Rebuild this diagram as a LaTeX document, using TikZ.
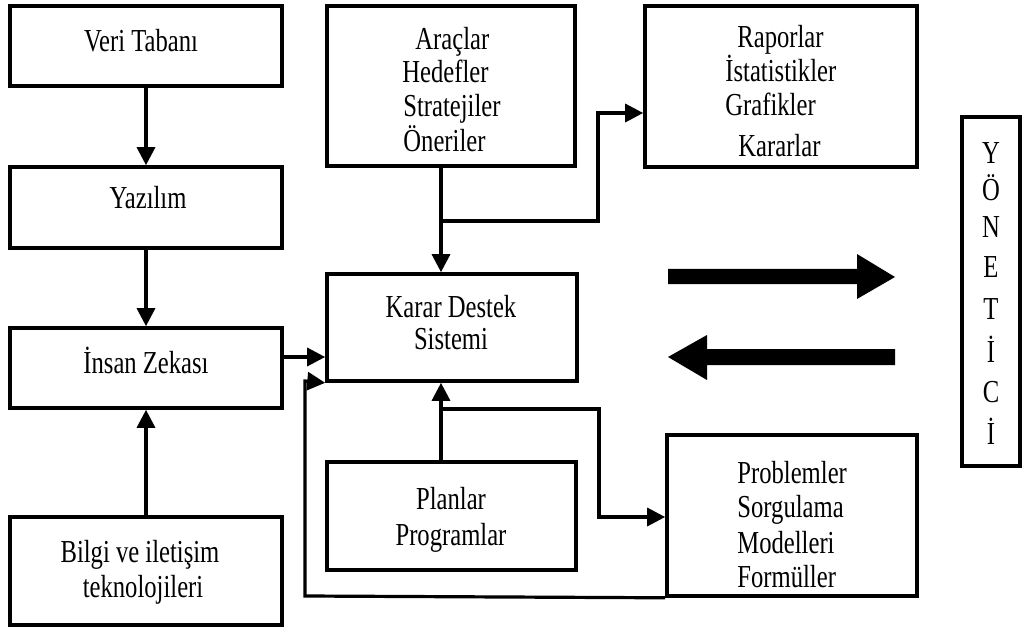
\documentclass[tikz,border=0pt]{standalone}
\usepackage{fontspec}
\setmainfont{Liberation Serif}[FakeStretch=0.77]
\usetikzlibrary{arrows.meta,fit}
\begin{document}
\begin{tikzpicture}[x=0.5pt,y=-0.5pt,
  box/.style={draw,line width=1.8pt,inner sep=0pt},
  conn/.style={line width=1.6pt,-{Triangle[length=9pt,width=9pt]}},
  txt/.style={font=\fontsize{16}{18}\selectfont,inner sep=0pt,anchor=base},
  txtl/.style={txt,anchor=base west},
  bigarrow/.style={fill=black}]
\useasboundingbox (0,0) rectangle (1024,631);
% boxes
\node[box,fit={(10,6)(282,86)}] (veri) {};
\node[box,fit={(10,167)(282,248)}] (yazilim) {};
\node[box,fit={(10,328)(282,408)}] (insan) {};
\node[box,fit={(10,517)(282,625)}] (bilgi) {};
\node[box,fit={(327,6)(575,166)}] (arac) {};
\node[box,fit={(327,274)(577,381)}] (kds) {};
\node[box,fit={(327,462)(576,570)}] (plan) {};
\node[box,fit={(645,6)(917,167)}] (rapor) {};
\node[box,fit={(667,435)(917,596)}] (prob) {};
\node[box,fit={(962,117)(1020,466)}] (yonetici) {};
% texts
\node[txt] (t1) at (141,52) {Veri Tabanı};
\node[txt] (t2) at (148,209) {Yazılım};
\node[txt] (t3) at (146,373) {İnsan Zekası};
\node[txt] (t4a) at (140,562) {Bilgi ve iletişim};
\node[txt] (t4b) at (143,597) {teknolojileri};
\node[txt] (t5a) at (451,317) {Karar Destek};
\node[txt] (t5b) at (451,350) {Sistemi};
\node[txt] (t6a) at (451,509) {Planlar};
\node[txt] (t6b) at (451,545) {Programlar};
\node[txtl] (t7a) at (415,50) {Araçlar};
\node[txtl] (t7b) at (402,83) {Hedefler};
\node[txtl] (t7c) at (403,117) {Stratejiler};
\node[txtl] (t7d) at (403,152) {Öneriler};
\node[txtl] (t8a) at (737,48) {Raporlar};
\node[txtl] (t8b) at (725,82) {İstatistikler};
\node[txtl] (t8c) at (725,116) {Grafikler};
\node[txtl] (t8d) at (738,157) {Kararlar};
\node[txtl] (t9a) at (737,483) {Problemler};
\node[txtl] (t9b) at (737,517) {Sorgulama};
\node[txtl] (t9c) at (737,553) {Modelleri};
\node[txtl] (t9d) at (737,587) {Formüller};
\node[txt] (y1) at (991,164) {Y};
\node[txt] (y2) at (991,200) {Ö};
\node[txt] (y3) at (991,237) {N};
\node[txt] (y4) at (991,278) {E};
\node[txt] (y5) at (991,320) {T};
\node[txt] (y6) at (991,362) {İ};
\node[txt] (y7) at (991,402) {C};
\node[txt] (y8) at (991,444) {İ};
% connectors
\draw[conn] (veri) -- (yazilim);
\draw[conn] (yazilim) -- (insan);
\draw[conn] (bilgi) -- (insan);
\draw[conn] (insan.east |- 0,357) -- (kds.west |- 0,357);
\coordinate (a1) at (441,221);
\draw[conn] (arac.south -| a1) -- (kds.north -| a1);
\draw[conn] (a1) -- (598,221) -- (598,113) -- (rapor.west |- 0,113);
\coordinate (p1) at (441,409);
\draw[conn] (plan.north -| p1) -- (kds.south -| p1);
\draw[conn] (p1) -- (599,409) -- (599,517) -- (prob.west |- 0,517);
\draw[conn] (prob.south west) -- (305,596) -- (305,381) -- (kds.south west);
% big arrows
\fill[bigarrow] (668,269) -- (857,269) -- (857,254) -- (895,277) -- (857,299) -- (857,284) -- (668,284) -- cycle;
\fill[bigarrow] (668,357) -- (707,335) -- (707,349) -- (895,349) -- (895,365) -- (707,365) -- (707,380) -- cycle;
\end{tikzpicture}
\end{document}
